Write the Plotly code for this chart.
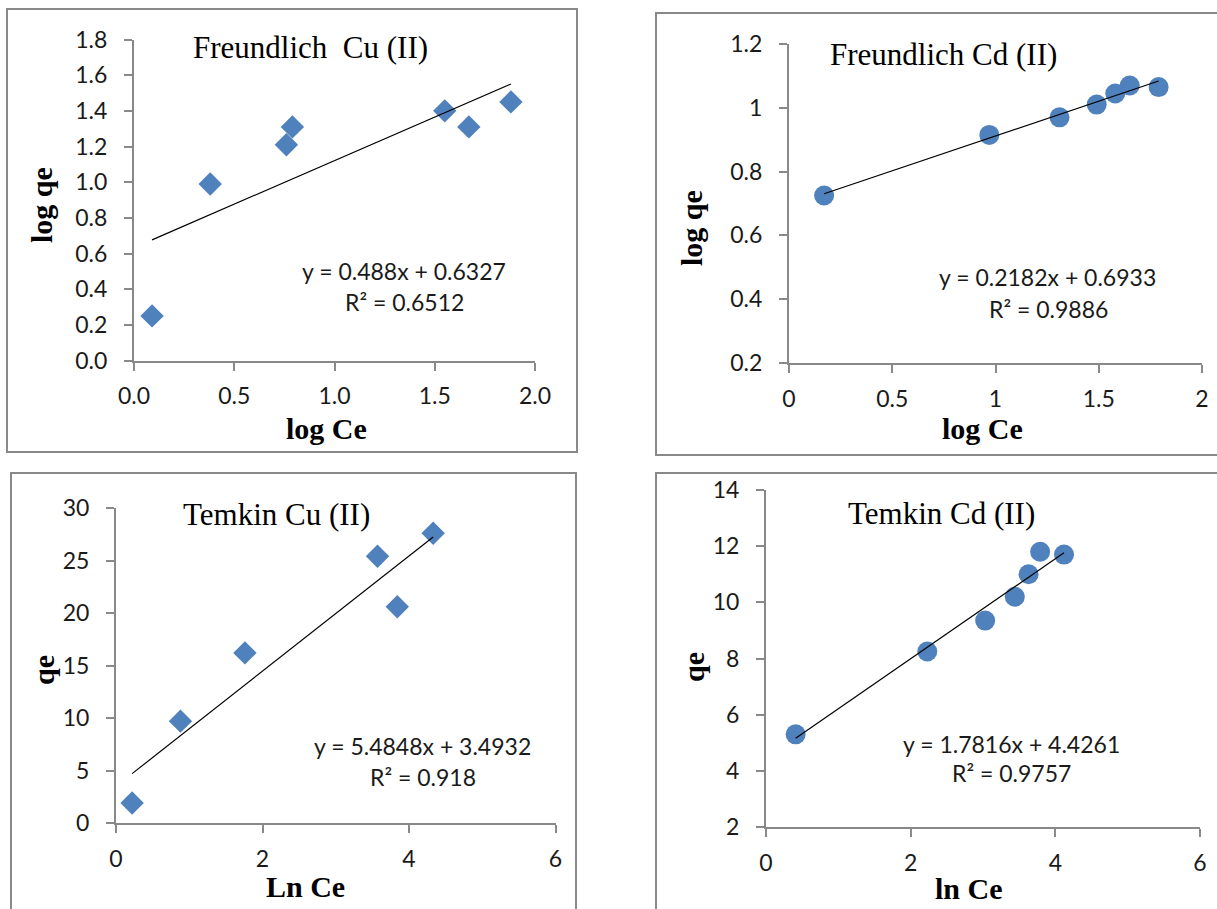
import plotly.graph_objects as go

W, H = 1217, 909

# ---------------- data ----------------
p1_x = [0.09, 0.38, 0.76, 0.79, 1.55, 1.67, 1.88]
p1_y = [0.25, 0.99, 1.21, 1.31, 1.40, 1.31, 1.45]
p1_fit = [0.488, 0.6327]

p2_x = [0.17, 0.97, 1.31, 1.49, 1.58, 1.65, 1.79]
p2_y = [0.725, 0.915, 0.97, 1.01, 1.045, 1.07, 1.065]
p2_fit = [0.2182, 0.6933]

p3_x = [0.22, 0.88, 1.76, 3.57, 3.84, 4.33]
p3_y = [1.9, 9.7, 16.2, 25.4, 20.6, 27.6]
p3_fit = [5.4848, 3.4932]

p4_x = [0.41, 2.23, 3.03, 3.44, 3.63, 3.79, 4.12]
p4_y = [5.3, 8.25, 9.35, 10.2, 11.0, 11.8, 11.7]
p4_fit = [1.7816, 4.4261]

titles = ["Freundlich\u00a0 Cu (II)", "Freundlich Cd (II)", "Temkin Cu (II)", "Temkin Cd (II)"]
xtitles = ["log Ce", "log Ce", "Ln Ce", "ln Ce"]
ytitles = ["log qe", "log qe", "qe", "qe"]
eq_lines = ["y = 0.488x + 0.6327", "y = 0.2182x + 0.6933", "y = 5.4848x + 3.4932", "y = 1.7816x + 4.4261"]
r2_lines = ["R\u00b2 = 0.6512", "R\u00b2 = 0.9886", "R\u00b2 = 0.918", "R\u00b2 = 0.9757"]

# ---------------- layout geometry (pixels) ----------------
def px(x):
    return x / W

def py(y):
    return 1 - y / H

panels = [
    dict(xs=p1_x, ys=p1_y, fit=p1_fit, sym="diamond", size=18,
         xdom=(134, 535), ydom=(360.5, 39.5), xr=[0, 2], yr=[0, 1.8], xd=0.5, yd=0.2,
         xfmt=".1f", yfmt=".1f",
         frame=(7, 9, 577, 452),
         title=(310, 47), eq=(404, 271), r2=(404, 302), yt=(41, 205), xt=(326, 428)),
    dict(xs=p2_x, ys=p2_y, fit=p2_fit, sym="circle", size=20,
         xdom=(789, 1202), ydom=(363, 44), xr=[0, 2], yr=[0.2, 1.2], xd=0.5, yd=0.2,
         xfmt="", yfmt="",
         frame=(656, 13, 1222, 455),
         title=(943, 54), eq=(1047, 277), r2=(1048, 309), yt=(692, 228), xt=(982, 428)),
    dict(xs=p3_x, ys=p3_y, fit=p3_fit, sym="diamond", size=18,
         xdom=(116, 555.5), ydom=(823, 508), xr=[0, 6], yr=[0, 30], xd=2, yd=5,
         xfmt="", yfmt="",
         frame=(11, 473, 576, 915),
         title=(276, 514), eq=(422, 746), r2=(423, 777), yt=(43, 670), xt=(305, 886)),
    dict(xs=p4_x, ys=p4_y, fit=p4_fit, sym="circle", size=20,
         xdom=(766, 1200), ydom=(827, 490), xr=[0, 6], yr=[2, 14], xd=2, yd=2,
         xfmt="", yfmt="",
         frame=(656, 473, 1222, 915),
         title=(941, 513), eq=(1011, 744), r2=(1011, 773), yt=(693, 667), xt=(969, 888)),
]

AXIS_COLOR = "#898989"
TICK_FONT = dict(family="Lato, Calibri, Liberation Sans, sans-serif", size=23, color="#1a1a1a")
SERIF = "Liberation Serif, Times New Roman, serif"
MARKER = "#4F81BD"

fig = go.Figure()
annotations = []
shapes = []

for i, p in enumerate(panels, start=1):
    xa = "x" if i == 1 else f"x{i}"
    ya = "y" if i == 1 else f"y{i}"
    fig.add_trace(go.Scatter(
        x=p["xs"], y=p["ys"], mode="markers", xaxis=xa, yaxis=ya,
        marker=dict(symbol=p["sym"], size=p["size"], color=MARKER, line=dict(width=0)),
        cliponaxis=False, showlegend=False, hoverinfo="x+y"))
    m, b = p["fit"]
    xl = [min(p["xs"]), max(p["xs"])]
    yl = [m * v + b for v in xl]
    fig.add_trace(go.Scatter(
        x=xl, y=yl, mode="lines", xaxis=xa, yaxis=ya,
        line=dict(color="#000000", width=1.2), showlegend=False, hoverinfo="skip"))

    axx = dict(domain=[px(p["xdom"][0]), px(p["xdom"][1])], range=p["xr"], dtick=p["xd"], tick0=0,
               showline=True, linecolor=AXIS_COLOR, linewidth=2, ticks="outside", ticklen=8,
               tickcolor=AXIS_COLOR, tickwidth=2, showgrid=False, zeroline=False,
               tickfont=TICK_FONT, tickformat=p["xfmt"], anchor=ya, fixedrange=True,
               ticklabelstandoff=6, automargin=False)
    axy = dict(domain=[py(p["ydom"][0]), py(p["ydom"][1])], range=p["yr"], dtick=p["yd"], tick0=0,
               showline=True, linecolor=AXIS_COLOR, linewidth=2, ticks="outside", ticklen=8,
               tickcolor=AXIS_COLOR, tickwidth=2, showgrid=False, zeroline=False,
               tickfont=TICK_FONT, tickformat=p["yfmt"], anchor=xa, fixedrange=True,
               ticklabelstandoff=12, automargin=False)
    fig.layout["xaxis" if i == 1 else f"xaxis{i}"] = axx
    fig.layout["yaxis" if i == 1 else f"yaxis{i}"] = axy

    x0, y0, x1, y1 = p["frame"]
    shapes.append(dict(type="rect", xref="paper", yref="paper",
                       x0=px(x0), x1=px(x1), y0=py(y1), y1=py(y0),
                       line=dict(color=AXIS_COLOR, width=2), fillcolor="rgba(0,0,0,0)", layer="below"))

    annotations.append(dict(text=titles[i - 1], x=px(p["title"][0]), y=py(p["title"][1]), xref="paper", yref="paper",
                            xanchor="center", yanchor="middle", showarrow=False,
                            font=dict(family=SERIF, size=31, color="#000000")))
    annotations.append(dict(text=eq_lines[i - 1], x=px(p["eq"][0]), y=py(p["eq"][1]), xref="paper", yref="paper",
                            xanchor="center", yanchor="middle", showarrow=False,
                            font=dict(family=TICK_FONT["family"], size=23, color="#1a1a1a")))
    annotations.append(dict(text=r2_lines[i - 1], x=px(p["r2"][0]), y=py(p["r2"][1]), xref="paper", yref="paper",
                            xanchor="center", yanchor="middle", showarrow=False,
                            font=dict(family=TICK_FONT["family"], size=23, color="#1a1a1a")))
    annotations.append(dict(text="<b>" + xtitles[i - 1] + "</b>", x=px(p["xt"][0]), y=py(p["xt"][1]),
                            xref="paper", yref="paper", xanchor="center", yanchor="middle", showarrow=False,
                            font=dict(family=SERIF, size=30, color="#000000")))
    annotations.append(dict(text="<b>" + ytitles[i - 1] + "</b>", x=px(p["yt"][0]), y=py(p["yt"][1]),
                            xref="paper", yref="paper", xanchor="center", yanchor="middle", showarrow=False,
                            textangle=-90, font=dict(family=SERIF, size=30, color="#000000")))

fig.update_layout(
    width=W, height=H, margin=dict(l=0, r=0, t=0, b=0, autoexpand=False),
    paper_bgcolor="white", plot_bgcolor="white",
    annotations=annotations, shapes=shapes, showlegend=False,
)

fig.write_html("out.html", config={"displayModeBar": False})
